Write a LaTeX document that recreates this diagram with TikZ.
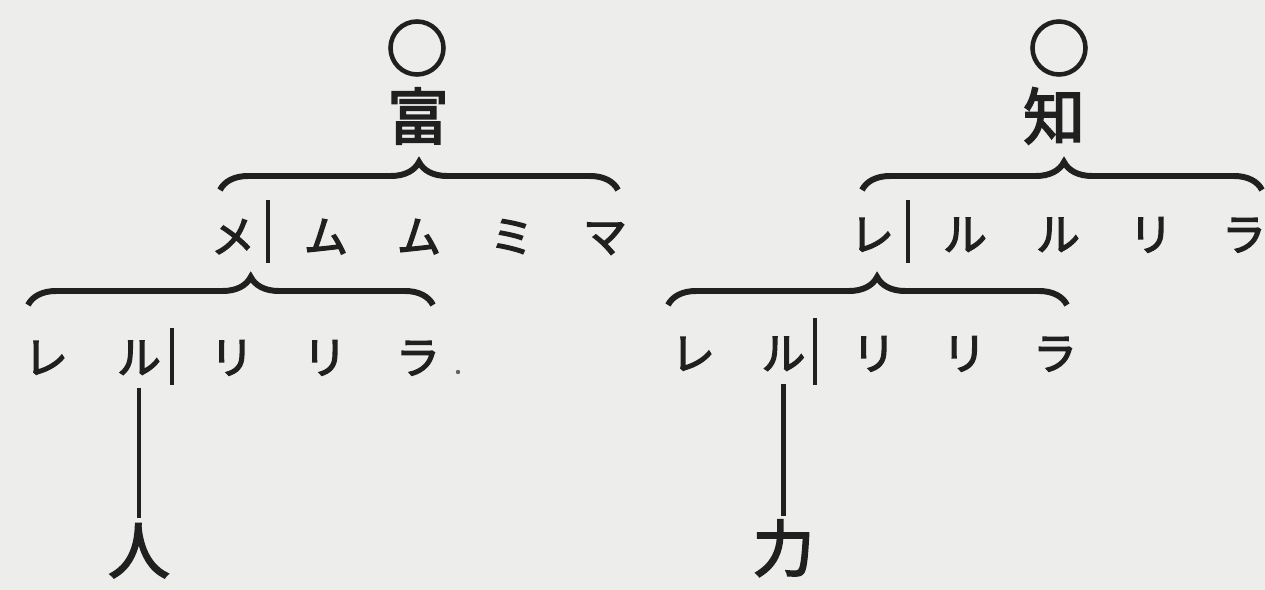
\documentclass[tikz,border=0pt]{standalone}
\usepackage{fontspec}
\newfontfamily\jp{Noto Sans CJK JP}[FakeBold=3]
\usepackage{xcolor}
\usepackage{tikz}
\usetikzlibrary{positioning, decorations.pathreplacing}

\definecolor{paper}{RGB}{237,237,236}
\definecolor{ink}{RGB}{32,32,32}

\tikzset{
  kana/.style={font=\jp\fontsize{25}{25}\selectfont, text=ink, inner sep=0pt,
    text height=22pt, text depth=3pt},
  kanji/.style={font=\jp\fontsize{35}{35}\selectfont, text=ink, inner sep=0pt,
    text height=30.8pt, text depth=4.2pt},
  ring/.style={circle, draw=ink, line width=2.6pt, minimum size=1.06cm, inner sep=0pt},
  bar/.style={draw=ink, line width=2.4pt},
  link/.style={draw=ink, line width=2.8pt, shorten <=0.18cm, shorten >=0.02cm},
  overbrace/.style={draw=ink, line width=3.4pt, decorate,
    decoration={brace, amplitude=0.56cm, aspect=#1}},
  overbrace/.default=0.5
}

\begin{document}
\begin{tikzpicture}[x=0.02cm,y=-0.02cm,node distance=1.86cm]
    \fill[paper] (0,0) rectangle (1265,590);
    \useasboundingbox (0,0) rectangle (1265,590);

    % left: tomu
    \node[ring] (lring) at (417,48) {};
    \node[kanji] (tomi) at (418,116) {富};

    \node[kana] (lme) at (233,236) {メ};
    \node[kana] (lmu1) [right of=lme] {ム};
    \node[kana] (lmu2) [right of=lmu1] {ム};
    \node[kana] (lmi) [right of=lmu2] {ミ};
    \node[kana] (lma) [right of=lmi] {マ};

    \node[kana] (lre) at (46,357) {レ};
    \node[kana] (lru) [right of=lre] {ル};
    \node[kana] (lri1) [right of=lru] {リ};
    \node[kana] (lri2) [right of=lri1] {リ};
    \node[kana] (lra) [right of=lri2] {ラ};

    \node[kanji] (hito) at (lru |- 0,550) {人};

    \coordinate (lb1a) at (220,190);
    \coordinate (lb1b) at (618,190);
    \coordinate (lb2a) at (28,305);
    \coordinate (lb2b) at (433,305);
    \draw[overbrace] (lb1a) -- (lb1b);
    \draw[overbrace=0.55] (lb2a) -- (lb2b);

    \draw[bar] (268,200) -- (268,263);
    \draw[bar] (172,328) -- (172,385);
    \fill[ink!70] (458,372) circle (2.2);

    \draw[link] (lru) -- (hito);

    % right: shiru
    \node[ring] (rring) at (1059,48) {};
    \node[kanji] (chi) at (1054,116) {知};

    \node[kana] (rre) at (872,234) {レ};
    \node[kana] (rru1) [right of=rre] {ル};
    \node[kana] (rru2) [right of=rru1] {ル};
    \node[kana] (rri) [right of=rru2] {リ};
    \node[kana] (rra) [right of=rri] {ラ};

    \begin{scope}[node distance=1.81cm]
    \node[kana] (sre) at (693,353) {レ};
    \node[kana] (sru) [right of=sre] {ル};
    \node[kana] (sri1) [right of=sru] {リ};
    \node[kana] (sri2) [right of=sri1] {リ};
    \node[kana] (sra) [right of=sri2] {ラ};
    \end{scope}

    \node[kanji] (chikara) at (sru |- 0,548) {力};

    \coordinate (rb1a) at (862,190);
    \coordinate (rb1b) at (1262,190);
    \coordinate (rb2a) at (668,305);
    \coordinate (rb2b) at (1067,305);
    \draw[overbrace=0.505] (rb1a) -- (rb1b);
    \draw[overbrace=0.524] (rb2a) -- (rb2b);

    \draw[bar] (908,200) -- (908,263);
    \draw[bar] (815,318) -- (815,385);

    \draw[link] (sru) -- (chikara);
\end{tikzpicture}
\end{document}
